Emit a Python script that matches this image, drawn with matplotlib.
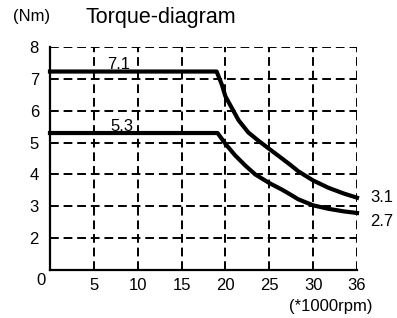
import numpy as np
import matplotlib
matplotlib.use("Agg")
import matplotlib.pyplot as plt

plt.rcParams['font.family'] = ['Liberation Sans', 'DejaVu Sans']

# data (torque Nm vs speed *1000rpm)
x_ticks = [0, 5, 10, 15, 20, 25, 30, 36]
y_ticks = [2, 3, 4, 5, 6, 7, 8]

rpm_peak = [0, 19.0, 19.6, 20, 20.7, 21.5, 22.6, 23.8, 25, 26.4, 27.4, 28.3, 30, 32.1, 34.2, 36]
torque_peak = [7.23, 7.23, 6.81, 6.45, 6.1, 5.7, 5.32, 5.05, 4.8, 4.51, 4.3, 4.1, 3.81, 3.58, 3.4, 3.27]

rpm_cont = [0, 19.1, 20, 21.1, 22.3, 23.4, 25, 26.4, 27.4, 28.3, 30, 32.1, 34.2, 36]
torque_cont = [5.3, 5.3, 4.96, 4.6, 4.27, 4.0, 3.73, 3.53, 3.37, 3.22, 3.03, 2.92, 2.84, 2.79]

labels = [("7.1", 7.8, 7.23), ("5.3", 8.2, 5.3)]

# x axis is evenly spaced per tick (30 -> 36 same width as 25 -> 30)
idx = np.arange(len(x_ticks))
def fwd(v):
    return np.interp(v, x_ticks, idx)
def inv(v):
    return np.interp(v, idx, x_ticks)

fig = plt.figure(figsize=(3.97, 3.18), dpi=100)
ax = fig.add_axes([50/397, 1-270/318, 307/397, 223/318])
ax.set_xscale('function', functions=(fwd, inv))
ax.set_xlim(0, 36)
ax.set_ylim(1, 8)

dash = (0, (4.5, 2.5))
for xv in x_ticks[1:]:
    ax.axvline(xv, color='black', lw=1.4, ls=dash, zorder=3)
for yv in y_ticks:
    ax.axhline(yv, color='black', lw=1.4, ls=dash, zorder=3)

ax.plot(rpm_peak, torque_peak, color='black', lw=3, zorder=4, clip_on=False,
        solid_joinstyle='round')
ax.plot(rpm_cont, torque_cont, color='black', lw=3, zorder=4, clip_on=False,
        solid_joinstyle='round')

for s, xv, yv in labels:
    ax.annotate(s, (xv, yv), xytext=(0, 1.5), textcoords='offset points',
                ha='center', va='baseline', fontsize=12, zorder=2)
ax.annotate("3.1", (36, torque_peak[-1]), xytext=(9.5, 0), textcoords='offset points',
            ha='left', va='center', fontsize=12)
ax.annotate("2.7", (36, torque_cont[-1]), xytext=(9.5, -6), textcoords='offset points',
            ha='left', va='center', fontsize=12)

ax.set_xticks(x_ticks[1:])
ax.set_xticklabels([str(t) for t in x_ticks[1:]])
ax.set_yticks(y_ticks)
ax.set_yticklabels([str(t) for t in y_ticks])
ax.tick_params(length=0, labelsize=12)
ax.tick_params(axis='x', pad=6)
ax.tick_params(axis='y', pad=8)
ax.annotate("0", (0, 1), xytext=(-6.5, -7.5), textcoords='offset points',
            ha='center', va='center', fontsize=12)

for side in ['top', 'right']:
    ax.spines[side].set_visible(False)
for side in ['left', 'bottom']:
    ax.spines[side].set_linewidth(1.6)
    ax.spines[side].set_zorder(5)

fig.text(13/397, 1-17/318, "(Nm)", ha='left', va='center', fontsize=12)
fig.text(86/397, 1-17/318, "Torque-diagram", ha='left', va='center', fontsize=15.5)
fig.text(372/397, 1-307/318, "(*1000rpm)", ha='right', va='center', fontsize=12)

fig.savefig("out.png", dpi=100)
